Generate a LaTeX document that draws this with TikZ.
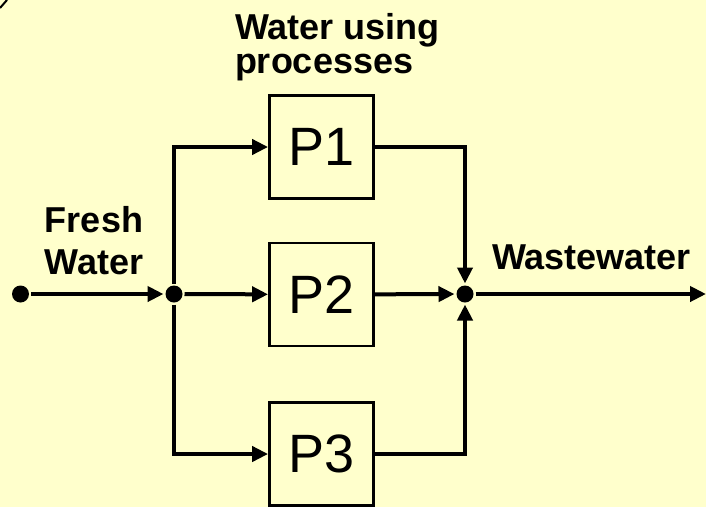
\documentclass[tikz,border=0pt]{standalone}
\usepackage{fontspec}
\setmainfont{Liberation Sans}
\usetikzlibrary{arrows.meta, positioning}
\definecolor{bgyellow}{HTML}{FFFFCC}

\tikzset{
    process/.style={draw, line width=2.8pt, fill=bgyellow, minimum width=104pt, minimum height=103pt, inner sep=0pt, font=\fontsize{54}{54}\selectfont},
    junction/.style={circle, fill, inner sep=0pt, minimum size=17pt},
    flowlabel/.style={inner sep=0pt, font=\fontsize{36}{42}\selectfont\bfseries}
}

\begin{document}
\begin{tikzpicture}[x=1pt, y=-1pt, >={Triangle[length=16pt, width=15pt]}, line width=4pt]
    \fill[bgyellow] (0,0) rectangle (706,507);
    \useasboundingbox (0,0) rectangle (706,507);
    \draw[line width=2pt] (0,8) -- (7,0);

    % processes
    \node[process] (p1) at (321.5,147) {P1};
    \node[process] (p2) at (321.5,294.5) {P2};
    \node[process] (p3) at (321.5,454) {P3};

    % junctions
    \node[junction] (fresh) at (20.5,294) {};
    \node[junction] (split) at (174,294) {};
    \node[junction] (merge) at (465,294) {};
    \coordinate (out) at (706,294);

    % labels
    \node[flowlabel, align=left, anchor=north west, font=\fontsize{36}{34}\selectfont\bfseries] (uselbl) at (233,11) {Water using\\processes};
    \node[flowlabel, align=center] (freshlbl) at (94,241) {Fresh\\Water};
    \node[flowlabel, anchor=base west] (wastelbl) at (490,269) {Wastewater};

    % connectors
    \draw[->] (fresh) -- (split);
    \draw[->] (split) -- (p2);
    \draw[->] (split) |- (p1);
    \draw[->] (split) |- (p3);
    \draw[->] (p1) -| (merge);
    \draw[->] (p2) -- (merge);
    \draw[->] (p3) -| (merge);
    \draw[->] (merge) -- (out);
\end{tikzpicture}
\end{document}
